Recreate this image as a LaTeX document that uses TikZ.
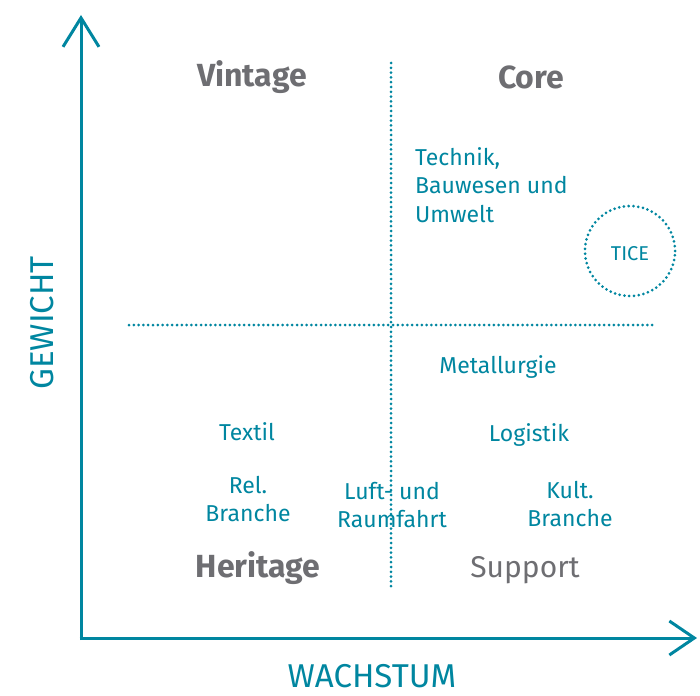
\documentclass[tikz,border=0pt]{standalone}
\usepackage{fontspec}
\setmainfont{Fira Sans}
\usetikzlibrary{arrows.meta}
\definecolor{teal1}{RGB}{0,134,160}
\definecolor{grey1}{RGB}{110,110,114}
\tikzset{
  yaxis/.style={teal1, line width=3pt, -{Straight Barb[length=29pt,width=36pt,line width=3pt]}},
  xaxis/.style={teal1, line width=3pt, -{Straight Barb[length=25pt,width=34pt,line width=3pt]}},
  dotline/.style={teal1, line width=3pt, line cap=round, dash pattern=on 0pt off 4.8pt},
  lbl/.style={teal1, font=\fontsize{23}{28.5}\selectfont, align=center, inner sep=0pt},
  quad/.style={grey1, font=\fontsize{32}{34}\selectfont\bfseries, inner sep=0pt},
  axlbl/.style={teal1, font=\fontsize{33}{35}\selectfont, inner sep=0pt}
}
\begin{document}
\begin{tikzpicture}[x=1pt,y=-1pt]
\useasboundingbox (0,0) rectangle (700,695);
\coordinate (ytip) at (81,15);
\coordinate (xtip) at (697,638);
\draw[yaxis] (81,640) -- (ytip);
\draw[xaxis] (79.5,638) -- (xtip);
\coordinate (vt) at (391,63);
\coordinate (vb) at (391,588);
\coordinate (hl) at (129,325);
\coordinate (hr) at (655,325);
\draw[dotline] (vt) -- (vb);
\draw[dotline] (hl) -- (hr);
\node[circle, draw=teal1, line width=3pt, dash pattern=on 0pt off 4.8pt, line cap=round, minimum size=90pt, inner sep=0pt] (tice) at (630,251) {};
\node[teal1, font=\fontsize{20}{22}\selectfont, inner sep=0pt] (ticel) at (630,254) {TICE};
\node[quad] (vintage) at (252,77) {Vintage};
\node[quad] (core) at (531,77) {Core};
\node[quad] (heritage) at (258,568) {Heritage};
\node[grey1, font=\fontsize{30}{32}\selectfont, inner sep=0pt] (support) at (525,570) {Support};
\node[lbl, align=left, anchor=north west] (technik) at (415,147) {Technik,\\Bauwesen und\\Umwelt};
\node[lbl] (metall) at (498,367) {Metallurgie};
\node[lbl] (textil) at (247,432) {Textil};
\node[lbl] (logistik) at (529,435) {Logistik};
\node[lbl] (rel) at (248,499) {Rel.\\Branche};
\node[lbl] (luft) at (392,505) {Luft- und\\Raumfahrt};
\node[lbl] (kult) at (570,504) {Kult.\\Branche};
\node[axlbl, rotate=90] (gewicht) at (42,323) {GEWICHT};
\node[axlbl, text height=23pt, text depth=0pt] (wachstum) at (372,676) {WACHSTUM};
\end{tikzpicture}
\end{document}
